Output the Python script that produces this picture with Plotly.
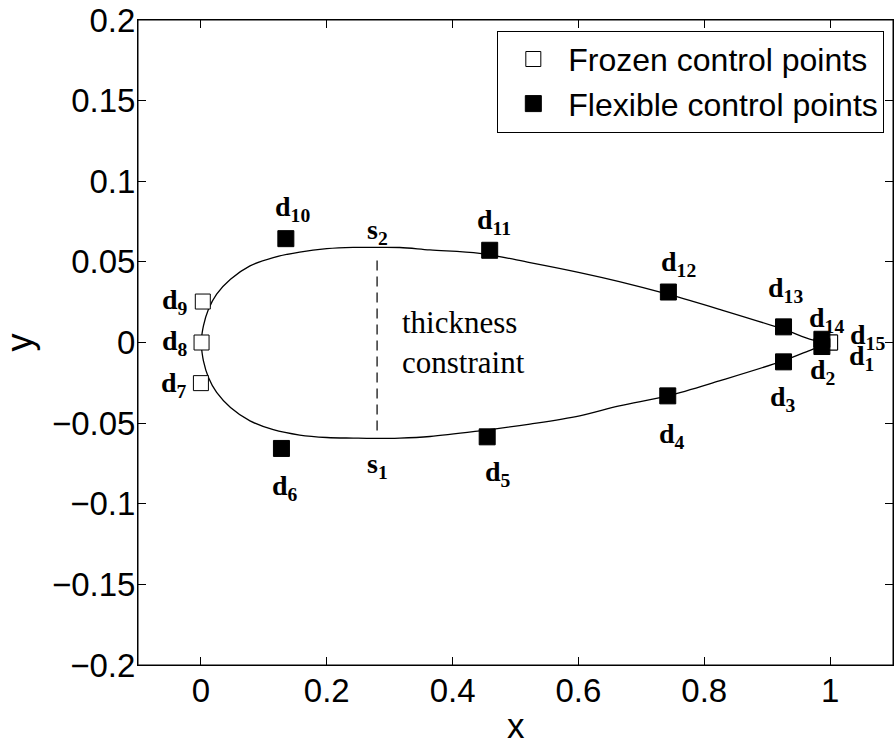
import plotly.graph_objects as go

# ---- data ----
upper_x = [0.0, 0.004, 0.012, 0.025, 0.047, 0.078, 0.115, 0.157, 0.200, 0.242, 0.274, 0.316,
           0.364, 0.443, 0.523, 0.602, 0.665, 0.742, 0.824, 0.925, 0.972, 1.0]
upper_y = [0.0, 0.0103, 0.0206, 0.0300, 0.0392, 0.0475, 0.0527, 0.0561, 0.0582, 0.0590, 0.0590, 0.0589,
           0.0574, 0.0553, 0.0496, 0.0434, 0.0378, 0.0300, 0.0206, 0.0083, 0.0016, 0.0]
lower_x = [0.0, 0.004, 0.012, 0.025, 0.047, 0.078, 0.115, 0.157, 0.200, 0.242, 0.274, 0.316,
           0.364, 0.443, 0.523, 0.602, 0.665, 0.742, 0.824, 0.925, 0.972, 1.0]
lower_y = [0.0, -0.0114, -0.0217, -0.0310, -0.0403, -0.0486, -0.0541, -0.0574, -0.0589, -0.0593, -0.0595, -0.0593,
           -0.0583, -0.0548, -0.0506, -0.0455, -0.0393, -0.0331, -0.0238, -0.0114, -0.0042, 0.0]

point_names = ["1", "2", "3", "4", "5", "6", "7", "8", "9", "10", "11", "12", "13", "14", "15"]
point_x = [1.0, 0.987, 0.926, 0.742, 0.455, 0.128, 0.0, 0.001, 0.003, 0.135, 0.459, 0.743, 0.926, 0.987, 1.0]
point_y = [0.0, -0.0025, -0.0120, -0.0331, -0.0585, -0.0657, -0.0252, 0.0, 0.0254, 0.0644, 0.0572, 0.0313, 0.0097, 0.0020, 0.0]
point_frozen = [True, False, False, False, False, False, True, True, True, False, False, False, False, False, True]

thickness_x = 0.28
thickness_y = [-0.0545, 0.0520]

x_ticks = [0, 0.2, 0.4, 0.6, 0.8, 1]
x_ticktext = ["0", "0.2", "0.4", "0.6", "0.8", "1"]
y_ticks = [-0.2, -0.15, -0.1, -0.05, 0, 0.05, 0.1, 0.15, 0.2]
y_ticktext = ["\u22120.2", "\u22120.15", "\u22120.1", "\u22120.05", "0", "0.05", "0.1", "0.15", "0.2"]

# label offsets in pixels (dx right, dy down) for each control point label
label_dx = [31, 1, -1, 4, 11, 4, -27, -27, -28, 7, 4, 10, 2, 5, 37]
label_dy = [15, 25, 37, 40, 37, 39, 1, 0, 0, -30, -29, -29, -37, -20, -6]

SANS = "Liberation Sans, Arial, Helvetica, sans-serif"
SERIF = "Liberation Serif, Times New Roman, serif"

fig = go.Figure()

fig.add_trace(go.Scatter(x=upper_x, y=upper_y, mode="lines", line=dict(color="black", width=1.3, shape="spline", smoothing=1.0),
                         showlegend=False, hoverinfo="skip"))
fig.add_trace(go.Scatter(x=lower_x, y=lower_y, mode="lines", line=dict(color="black", width=1.3, shape="spline", smoothing=1.0),
                         showlegend=False, hoverinfo="skip"))
fig.add_trace(go.Scatter(x=[thickness_x, thickness_x], y=thickness_y, mode="lines",
                         line=dict(color="black", width=1.2, dash="10px,6px"), showlegend=False, hoverinfo="skip"))

fx = [x for x, f in zip(point_x, point_frozen) if f]
fy = [y for y, f in zip(point_y, point_frozen) if f]
gx = [x for x, f in zip(point_x, point_frozen) if not f]
gy = [y for y, f in zip(point_y, point_frozen) if not f]

fig.add_trace(go.Scatter(x=fx, y=fy, mode="markers", name="Frozen control points",
                         marker=dict(symbol="square", size=15, color="white", line=dict(color="black", width=1))))
fig.add_trace(go.Scatter(x=gx, y=gy, mode="markers", name="Flexible control points",
                         marker=dict(symbol="square", size=16, color="black", line=dict(color="black", width=1))))

for n, x, y, dx, dy in zip(point_names, point_x, point_y, label_dx, label_dy):
    fig.add_annotation(x=x, y=y, xref="x", yref="y", showarrow=False,
                       text="<b>d</b><sub><b>%s</b></sub>" % n,
                       font=dict(family=SERIF, size=28, color="black"),
                       xshift=dx, yshift=-dy)

fig.add_annotation(x=thickness_x, y=thickness_y[1], showarrow=False, text="<b>s</b><sub><b>2</b></sub>",
                   font=dict(family=SERIF, size=28, color="black"), yshift=27)
fig.add_annotation(x=thickness_x, y=thickness_y[0], showarrow=False, text="<b>s</b><sub><b>1</b></sub>",
                   font=dict(family=SERIF, size=28, color="black"), yshift=-35)
fig.add_annotation(x=0.316, y=0.0, showarrow=False, xanchor="left", yanchor="middle", align="left",
                   text="thickness<br>constraint", font=dict(family=SERIF, size=31, color="black"))

# axis titles
fig.add_annotation(x=0.5, y=0, xref="paper", yref="paper", showarrow=False, text="x",
                   xanchor="center", yanchor="middle",
                   font=dict(family=SANS, size=35, color="black"), yshift=-60)
fig.add_annotation(x=0, y=0.5, xref="paper", yref="paper", showarrow=False, text="y", textangle=-90,
                   xanchor="center", yanchor="middle",
                   font=dict(family=SANS, size=36, color="black"), xshift=-119)

# axes box frame
fig.add_shape(type="rect", xref="paper", yref="paper", x0=0, y0=0, x1=1, y1=1,
              line=dict(color="black", width=1), layer="above")

axis_common = dict(showgrid=False, zeroline=False, showline=True, linecolor="black", linewidth=1,
                   mirror="ticks", ticks="inside", ticklen=8, tickcolor="black", tickwidth=1,
                   automargin=False, ticklabeloverflow="allow",
                   tickfont=dict(family=SANS, size=33, color="black"))

fig.update_layout(
    width=894, height=743,
    margin=dict(l=138, r=1, t=20, b=78),
    paper_bgcolor="white", plot_bgcolor="white",
    xaxis=dict(range=[-0.1, 1.1], tickvals=x_ticks, ticktext=x_ticktext, ticklabelstandoff=-4,
               **axis_common),
    yaxis=dict(range=[-0.2, 0.2], tickvals=y_ticks, ticktext=y_ticktext, ticklabelstandoff=-5,
               **axis_common),
    legend=dict(x=0.9885, y=0.9834, xanchor="right", yanchor="top", bgcolor="white",
                bordercolor="black", borderwidth=1, itemwidth=60,
                font=dict(family=SANS, size=32, color="black"), tracegroupgap=0),
    showlegend=True,
)

# remove the default 8px page margin so the figure sits at the window's top-left corner
fig.write_html("out.html", config={"displayModeBar": False},
               post_script="document.body.style.margin='0';")
